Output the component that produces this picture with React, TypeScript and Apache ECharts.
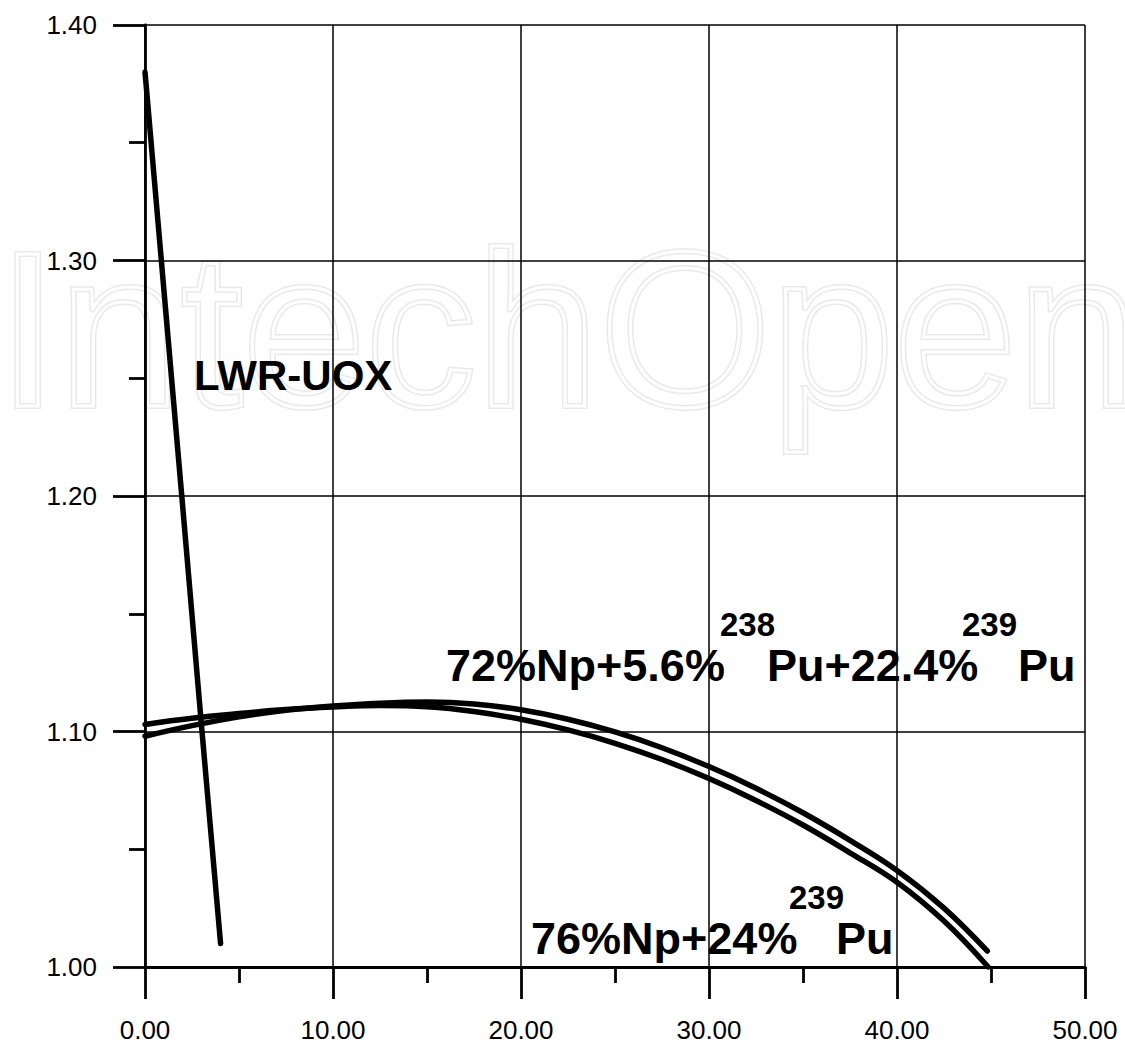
import React, { useEffect, useRef } from "react";
import * as echarts from "echarts";

// LWR-UOX curve
const lwrX = [0, 1, 2, 3, 4.02];
const lwrY = [1.38, 1.288, 1.196, 1.103, 1.01];

// Curve A (starts lower, ends higher)
const curveAX = [0, 2.5, 5, 7.5, 10, 12.5, 15, 17.5, 20, 22.5, 25, 27.5, 30, 32.5, 35, 37.5, 40, 42.5, 44.8];
const curveAY = [1.098, 1.1025, 1.1062, 1.109, 1.1108, 1.112, 1.1125, 1.1117, 1.1092, 1.1052, 1.0998, 1.0931, 1.0851, 1.0759, 1.0655, 1.0538, 1.041, 1.025, 1.0068];

// Curve B (starts higher, ends at 1.00)
const curveBX = [0, 2.5, 5, 7.5, 10, 12.5, 15, 17.5, 20, 22.5, 25, 27.5, 30, 32.5, 35, 37.5, 40, 42.5, 44.85];
const curveBY = [1.103, 1.1056, 1.1076, 1.1093, 1.1104, 1.111, 1.1105, 1.1085, 1.1052, 1.1007, 1.095, 1.0881, 1.08, 1.0707, 1.0603, 1.0485, 1.036, 1.0195, 1.0];

const xMin = 0, xMax = 50, xStep = 10;
const yMin = 1.0, yMax = 1.4, yStep = 0.1;

const FONT = "'Liberation Sans', Arial, Helvetica, sans-serif";

function zip(xs: number[], ys: number[]) {
  return xs.map((x, i) => [x, ys[i]]);
}

export default function App() {
  const ref = useRef<HTMLDivElement>(null);
  useEffect(() => {
    document.body.style.margin = "0";
    if (!ref.current) return;
    const chart = echarts.init(ref.current, undefined, { renderer: "svg" });
    const lineStyle = { color: "#000", width: 5.5, cap: "round" as const, join: "round" as const };
    const txt = (text: string, x: number, y: number, size: number, weight = "bold") => ({
      type: "text",
      x,
      y,
      z: 100,
      silent: true,
      style: {
        text,
        fill: "#000",
        font: `${weight} ${size}px ${FONT}`,
        align: "left",
        verticalAlign: "middle",
      },
    });
    const wm = (stroke: string, lw: number) => ({
      type: "text",
      x: -3,
      y: 329,
      z: -10,
      silent: true,
      style: {
        text: "IntechOpen",
        fill: "rgba(0,0,0,0)",
        stroke,
        lineWidth: lw,
        font: `normal 221px ${FONT}`,
        align: "left",
        verticalAlign: "middle",
      },
    });
    chart.setOption({
      animation: false,
      backgroundColor: "#fff",
      grid: { left: 145, right: 40, top: 25, bottom: 78, containLabel: false },
      xAxis: {
        type: "value",
        min: xMin,
        max: xMax,
        interval: xStep,
        axisLine: { show: true, onZero: false, lineStyle: { color: "#000", width: 2.8 } },
        axisTick: { show: true, length: 32, lineStyle: { color: "#000", width: 2.8 } },
        minorTick: { show: true, splitNumber: 2, length: 16, lineStyle: { color: "#000", width: 2.8 } },
        splitLine: { show: true, lineStyle: { color: "#000", width: 1.5 } },
        axisLabel: {
          color: "#000",
          fontSize: 26,
          fontFamily: FONT,
          margin: 50,
          formatter: (v: number) => v.toFixed(2),
        },
      },
      yAxis: {
        type: "value",
        min: yMin,
        max: yMax,
        interval: yStep,
        axisLine: { show: true, onZero: false, lineStyle: { color: "#000", width: 2.8 } },
        axisTick: { show: true, length: 32, lineStyle: { color: "#000", width: 2.8 } },
        minorTick: { show: true, splitNumber: 2, length: 16, lineStyle: { color: "#000", width: 2.8 } },
        splitLine: { show: true, lineStyle: { color: "#000", width: 1.5 } },
        axisLabel: {
          color: "#000",
          fontSize: 26,
          fontFamily: FONT,
          margin: 48,
          formatter: (v: number) => v.toFixed(2),
        },
      },
      series: [
        { type: "line", name: "LWR-UOX", data: zip(lwrX, lwrY), showSymbol: false, symbol: "none", lineStyle, z: 5 },
        { type: "line", name: "A", data: zip(curveAX, curveAY), showSymbol: false, symbol: "none", smooth: 0.4, lineStyle, z: 5 },
        { type: "line", name: "B", data: zip(curveBX, curveBY), showSymbol: false, symbol: "none", smooth: 0.4, lineStyle, z: 5 },
      ],
      graphic: [
        wm("#e9e9e9", 6),
        wm("#ffffff", 3),
        txt("LWR-UOX", 194, 375, 42),
        txt("72%Np+5.6%", 446, 665, 45),
        txt("238", 720, 624, 33),
        txt("Pu+22.4%", 767, 665, 45),
        txt("239", 962, 624, 33),
        txt("Pu", 1018, 665, 45),
        txt("76%Np+24%", 531, 938, 45),
        txt("239", 789, 897, 33),
        txt("Pu", 836, 938, 45),
      ],
    });
    return () => chart.dispose();
  }, []);
  return <div ref={ref} style={{ width: 1125, height: 1045 }} />;
}
